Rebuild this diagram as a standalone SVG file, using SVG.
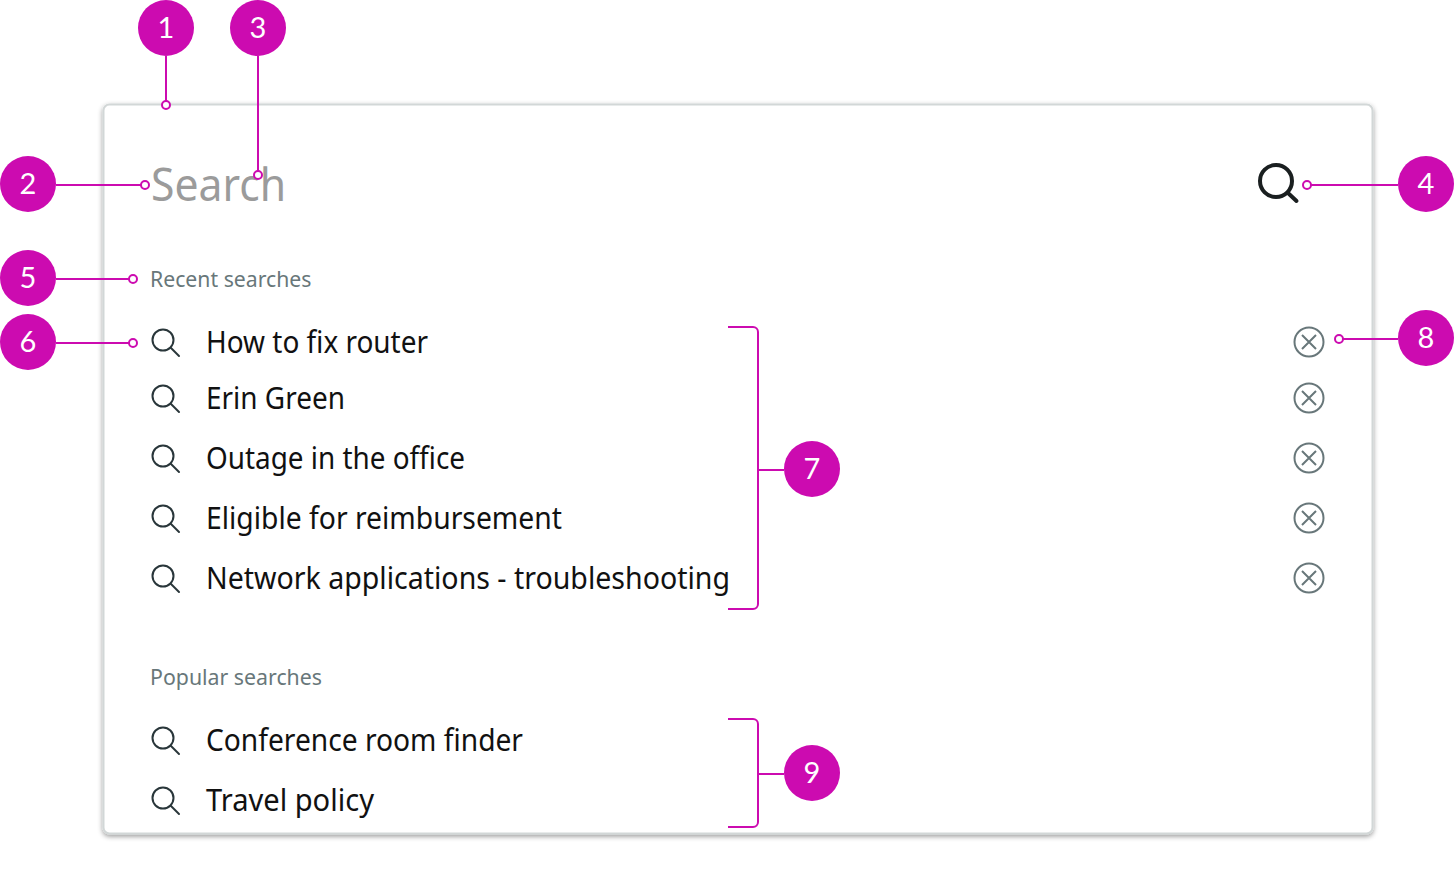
<svg xmlns="http://www.w3.org/2000/svg" width="1454" height="890" viewBox="0 0 1454 890">
<style>
text{font-family:"Noto Sans","Liberation Sans",sans-serif}
.item{font-size:30px;fill:#111}
.head{font-size:22.5px;fill:#68777a}
.num{font-family:Lato,"Noto Sans",sans-serif;font-size:29px;fill:#fff;text-anchor:middle}
.badge{fill:#cc0bb0}
.lead{fill:none;stroke:#cc0bb0;stroke-width:2}
.dot{fill:#fff;stroke:#cc0bb0;stroke-width:2}
.sicon{fill:none;stroke:#29363a;stroke-width:2;stroke-linecap:round}
.xicon{fill:none;stroke:#68777a;stroke-width:2}
</style>
<defs>
<filter id="sh" x="-3%" y="-3%" width="106%" height="108%"><feDropShadow dx="0" dy="2" stdDeviation="2.500" flood-color="#000" flood-opacity=".4"/></filter>
<g id="s"><circle cx="-2" cy="-2" r="10.5" class="sicon"/><path d="M6 6L14 14" class="sicon"/></g>
<g id="x"><circle r="14.5" class="xicon"/><path d="M-7 -7L7 7M7 -7L-7 7" class="xicon"/></g>
</defs>
<g id="panel"><rect x="103.500" y="104.500" width="1269" height="729" rx="6" fill="#fff" stroke="#d2d7d7" stroke-width="2" filter="url(#sh)"/></g>
<g id="search-field"><text x="151" y="201" font-size="45" fill="#9b9b9b" textLength="135" lengthAdjust="spacingAndGlyphs">Search</text>
<g transform="translate(1277,182)"><circle cx="-1" cy="-1" r="16" fill="none" stroke="#1a1f20" stroke-width="4"/><path d="M11 11L19.500 19" fill="none" stroke="#1a1f20" stroke-width="4" stroke-linecap="round"/></g></g>
<g id="recent"><text class="head" x="150" y="287" textLength="161.500" lengthAdjust="spacingAndGlyphs">Recent searches</text>
<g id="r1"><use href="#s" x="165" y="342"/><text class="item" x="206" y="353" textLength="222" lengthAdjust="spacingAndGlyphs">How to fix router</text><use href="#x" x="1309" y="342"/></g>
<g id="r2"><use href="#s" x="165" y="398"/><text class="item" x="206" y="409" textLength="139" lengthAdjust="spacingAndGlyphs">Erin Green</text><use href="#x" x="1309" y="398"/></g>
<g id="r3"><use href="#s" x="165" y="458"/><text class="item" x="206" y="469" textLength="259" lengthAdjust="spacingAndGlyphs">Outage in the office</text><use href="#x" x="1309" y="458"/></g>
<g id="r4"><use href="#s" x="165" y="518"/><text class="item" x="206" y="529" textLength="356" lengthAdjust="spacingAndGlyphs">Eligible for reimbursement</text><use href="#x" x="1309" y="518"/></g>
<g id="r5"><use href="#s" x="165" y="578"/><text class="item" x="206" y="589" textLength="524" lengthAdjust="spacingAndGlyphs">Network applications - troubleshooting</text><use href="#x" x="1309" y="578"/></g></g>
<g id="popular"><text class="head" x="150" y="685" textLength="172" lengthAdjust="spacingAndGlyphs">Popular searches</text>
<g id="p1"><use href="#s" x="165" y="740"/><text class="item" x="206" y="751" textLength="317" lengthAdjust="spacingAndGlyphs">Conference room finder</text></g>
<g id="p2"><use href="#s" x="165" y="800"/><text class="item" x="206" y="811" textLength="168" lengthAdjust="spacingAndGlyphs">Travel policy</text></g></g>
<g id="connectors">
<path class="lead" d="M166 56V101"/><circle class="dot" cx="166" cy="105" r="4"/>
<path class="lead" d="M258 56V171"/><circle class="dot" cx="258" cy="175" r="4"/>
<path class="lead" d="M56 185H141"/><circle class="dot" cx="145" cy="185" r="4"/>
<path class="lead" d="M1398 185H1311"/><circle class="dot" cx="1307" cy="185" r="4"/>
<path class="lead" d="M56 279H129"/><circle class="dot" cx="133" cy="279" r="4"/>
<path class="lead" d="M56 343H129"/><circle class="dot" cx="133" cy="343" r="4"/>
<path class="lead" d="M1398 339H1343"/><circle class="dot" cx="1339" cy="339" r="4"/>
<path class="lead" d="M728 327H753a5 5 0 0 1 5 5V604a5 5 0 0 1 -5 5H728M758 470H784"/>
<path class="lead" d="M728 719H753a5 5 0 0 1 5 5V822a5 5 0 0 1 -5 5H728M758 774H784"/>
</g>
<g id="n1"><circle class="badge" cx="166" cy="28" r="28"/><text class="num" x="166" y="38">1</text></g>
<g id="n2"><circle class="badge" cx="28" cy="184" r="28"/><text class="num" x="28" y="194">2</text></g>
<g id="n3"><circle class="badge" cx="258" cy="28" r="28"/><text class="num" x="258" y="38">3</text></g>
<g id="n4"><circle class="badge" cx="1426" cy="184" r="28"/><text class="num" x="1426" y="194">4</text></g>
<g id="n5"><circle class="badge" cx="28" cy="278" r="28"/><text class="num" x="28" y="288">5</text></g>
<g id="n6"><circle class="badge" cx="28" cy="342" r="28"/><text class="num" x="28" y="352">6</text></g>
<g id="n7"><circle class="badge" cx="812" cy="469" r="28"/><text class="num" x="812" y="479">7</text></g>
<g id="n8"><circle class="badge" cx="1426" cy="338" r="28"/><text class="num" x="1426" y="348">8</text></g>
<g id="n9"><circle class="badge" cx="812" cy="773" r="28"/><text class="num" x="812" y="783">9</text></g>
</svg>
